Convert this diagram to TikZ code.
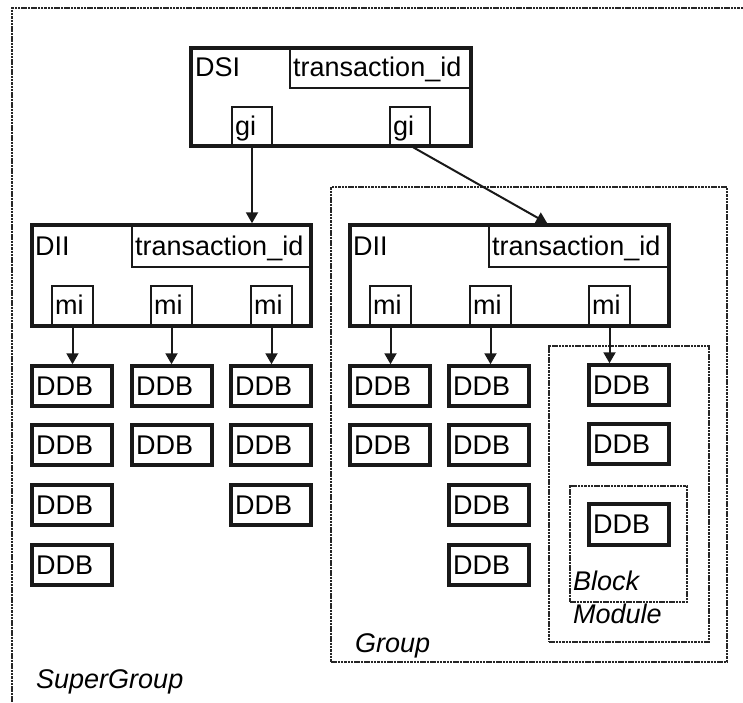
\documentclass[tikz,border=0pt]{standalone}
\usepackage{fontspec}
\setmainfont{Liberation Sans}
\usetikzlibrary{arrows.meta,fit}
\newcommand{\bx}[6]{\node[#1, fit={(#3,#4) (#5,#6)}] (#2) {};}
\newcommand{\tx}[5][txt]{\node[#1] (#2) at (#3,#4) {#5};}
\begin{document}
\begin{tikzpicture}[x=1pt,y=-1pt,
  bigbox/.style={draw=black!90, line width=3.5pt, rectangle, inner sep=0pt},
  smallbox/.style={draw=black!90, line width=2.4pt, rectangle, inner sep=0pt},
  grp/.style={draw=black!85, line width=2.2pt, dash pattern=on 2.5pt off 0.8pt},
  txt/.style={inner sep=0pt, anchor=base west, font=\fontsize{27}{32}\selectfont},
  itx/.style={txt, font=\fontsize{27}{32}\selectfont\itshape},
  arr/.style={draw=black!90, line width=2pt, -{Triangle[width=12pt,length=11pt]}}]
\useasboundingbox (0,0) rectangle (743,702);
% SuperGroup border
\draw[grp] (743,8) -- (12,8) -- (12,702);
% Group, Module, Block
\bx{grp,inner sep=0pt}{group}{331}{187}{727}{662}
\bx{grp,inner sep=0pt}{module}{549}{346}{709}{642}
\bx{grp,inner sep=0pt}{block}{570}{486}{687}{602}
% DSI
\bx{bigbox}{dsi}{191}{48}{471}{146}
\bx{smallbox}{dsitid}{290}{48}{471}{88}
\bx{smallbox}{gia}{232}{107}{272}{146}
\bx{smallbox}{gib}{390}{107}{430}{146}
\tx{dsil}{195}{76}{DSI}
\tx{dsitidl}{293}{76}{transaction\_id}
\tx{gial}{235}{135}{gi}
\tx{gibl}{393}{135}{gi}
% DII left
\bx{bigbox}{diia}{32}{225}{311}{326}
\bx{smallbox}{tida}{132}{225}{311}{267}
\bx{smallbox}{mia}{52}{286}{93}{326}
\bx{smallbox}{mib}{151}{286}{192}{326}
\bx{smallbox}{mic}{251}{286}{292}{326}
\tx{diial}{35}{255}{DII}
\tx{tidal}{135}{255}{transaction\_id}
\tx{mial}{55}{314}{mi}
\tx{mibl}{154}{314}{mi}
\tx{micl}{254}{314}{mi}
% DII right
\bx{bigbox}{diib}{350}{225}{669}{326}
\bx{smallbox}{tidb}{489}{225}{669}{267}
\bx{smallbox}{mid}{370}{286}{411}{326}
\bx{smallbox}{mie}{470}{286}{511}{326}
\bx{smallbox}{mif}{589}{286}{630}{326}
\tx{diibl}{353}{255}{DII}
\tx{tidbl}{492}{255}{transaction\_id}
\tx{midl}{373}{314}{mi}
\tx{miel}{473}{314}{mi}
\tx{mifl}{592}{314}{mi}
% DDB boxes
\foreach \c/\xa/\xb/\n in {a/32/112/4, b/132/212/2, c/231/311/3, d/350/430/2, e/449/529/4}{
  \foreach \r/\ya/\yb in {1/366/406, 2/425/465, 3/485/525, 4/545/585}{
    \ifnum\r>\n\else
      \bx{bigbox}{ddb\c\r}{\xa}{\ya}{\xb}{\yb}
      \tx{ddbl\c\r}{\xa+4}{\ya+29}{DDB}
    \fi
  }
}
\bx{bigbox}{ddbf1}{589}{365}{669}{405}
\tx{ddblf1}{593}{394}{DDB}
\bx{bigbox}{ddbf2}{589}{424}{669}{464}
\tx{ddblf2}{593}{453}{DDB}
\bx{bigbox}{ddbf3}{589}{504}{669}{545}
\tx{ddblf3}{593}{533}{DDB}
% labels
\tx[itx]{blockl}{573}{590}{Block}
\tx[itx]{modulel}{573}{623}{Module}
\tx[itx]{groupl}{355}{652}{Group}
\tx[itx]{superl}{36}{688}{SuperGroup}
% connectors
\draw[arr] (gia.south) -- (gia.south |- diia.north);
\path (diib.north west) ++(199,0) coordinate (diibin);
\draw[arr] (gib.south) ++(3,0) -- (diibin);
\draw[arr] (mia.south) -- (mia.south |- ddba1.north);
\draw[arr] (mib.south) -- (mib.south |- ddbb1.north);
\draw[arr] (mic.south) -- (mic.south |- ddbc1.north);
\draw[arr] (mid.south) -- (mid.south |- ddbd1.north);
\draw[arr] (mie.south) -- (mie.south |- ddbe1.north);
\draw[arr] (mif.south) -- (mif.south |- ddbf1.north);
\end{tikzpicture}
\end{document}
